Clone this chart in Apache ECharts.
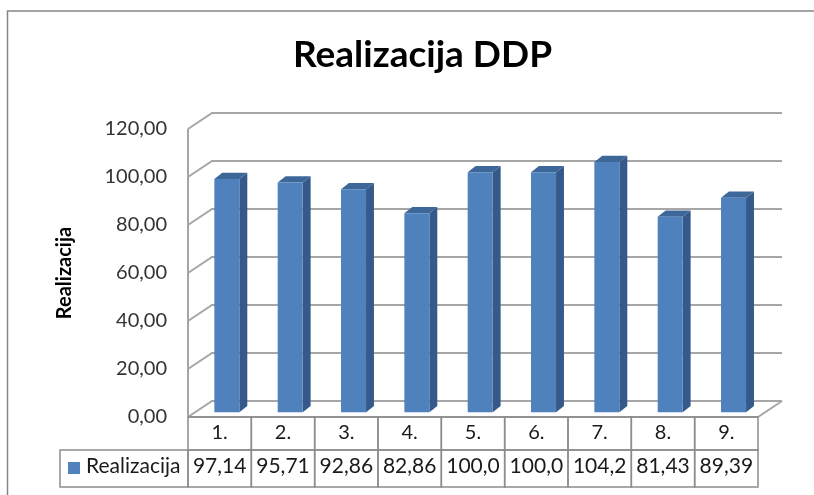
<!DOCTYPE html>
<html>
<head>
<meta charset="utf-8">
<script src="https://cdn.jsdelivr.net/npm/echarts@6/dist/echarts.min.js"></script>
<style>
  html, body { margin: 0; padding: 0; background: #fff; }
  #chart { width: 814px; height: 495px; }
</style>
</head>
<body>
<div id="chart"></div>
<script>
// data
var seriesName = 'Realizacija';
var categories = ['1.', '2.', '3.', '4.', '5.', '6.', '7.', '8.', '9.'];
var values = [97.14, 95.71, 92.86, 82.86, 100.0, 100.0, 104.2, 81.43, 89.39];
var yTicks = [0, 20, 40, 60, 80, 100, 120];

var FONT = 'Lato';
var DX = 24, DY = 16;          // depth of the 3d box (back wall offset)
var BAR_D0 = 0.3, BAR_D1 = 0.63; // bar depth position inside the box
var BLUE = '#4f81bd';

// excel style number: 2 decimals, comma, cut to column width
function fmt(v) {
    return v.toFixed(2).substring(0, 5).replace('.', ',');
}

var chart = echarts.init(document.getElementById('chart'));

// walls + gridlines
function renderWall(params, api) {
    var cs = params.coordSys;
    var left = cs.x, right = cs.x + cs.width;
    var y = api.coord([0, api.value(0)])[1];
    var lineStyle = { stroke: '#a6a6a6', lineWidth: 2, fill: null };
    var children = [{
        type: 'polyline',
        shape: { points: [[left, y], [left + DX, y - DY], [right + DX, y - DY]] },
        style: lineStyle
    }];
    if (api.value(0) === 0) {
        var yTop = api.coord([0, yTicks[yTicks.length - 1]])[1];
        children.push({
            type: 'polyline',
            shape: { points: [[left, y], [right, y], [right + DX, y - DY]] },
            style: lineStyle
        });
        children.push({
            type: 'line',
            shape: { x1: left, y1: y, x2: left, y2: yTop },
            style: { stroke: '#a6a6a6', lineWidth: 2 }
        });
    }
    return { type: 'group', children: children };
}

// 3d bars
function renderBar(params, api) {
    var idx = api.value(0);
    var top = api.coord([idx, api.value(1)]);
    var base = api.coord([idx, 0]);
    var band = api.size([1, 0])[0];
    var w = band * 0.395;
    var ox = DX * BAR_D0, oy = DY * BAR_D0;
    var sdx = DX * (BAR_D1 - BAR_D0), sdy = DY * (BAR_D1 - BAR_D0) + 1;
    var x0 = top[0] - w / 2 + ox;
    var yt = top[1] - oy, yb = base[1] - oy;
    return {
        type: 'group',
        children: [{
            type: 'polygon',
            shape: { points: [[x0 + w, yt], [x0 + w + sdx, yt - sdy], [x0 + w + sdx, yb - sdy], [x0 + w, yb]] },
            style: { fill: '#35598a' }
        }, {
            type: 'polygon',
            shape: { points: [[x0, yt], [x0 + sdx, yt - sdy], [x0 + w + sdx, yt - sdy], [x0 + w, yt]] },
            style: { fill: '#3e6799' }
        }, {
            type: 'rect',
            shape: { x: x0, y: yt, width: w, height: yb - yt },
            style: { fill: BLUE }
        }]
    };
}

// data table under the plot
function renderTable(params, api) {
    var idx = api.value(0);
    var base = api.coord([idx, 0]);
    var band = api.size([1, 0])[0];
    var x = base[0] - band / 2;
    var y1 = base[1], y2 = y1 + 33, y3 = y2 + 37;
    var border = { stroke: '#8c8c8c', lineWidth: 1.5, fill: null };
    return {
        type: 'group',
        children: [{
            type: 'rect', shape: { x: x, y: y1, width: band, height: y2 - y1 }, style: border
        }, {
            type: 'rect', shape: { x: x, y: y2, width: band, height: y3 - y2 }, style: border
        }, {
            type: 'text',
            style: {
                text: categories[idx], x: base[0], y: (y1 + y2) / 2 - 1,
                align: 'center', verticalAlign: 'middle',
                font: '20px ' + FONT, fill: '#1a1a1a'
            }
        }, {
            type: 'text',
            style: {
                text: fmt(api.value(1)), x: base[0], y: (y2 + y3) / 2 - 2,
                align: 'center', verticalAlign: 'middle',
                font: '21px ' + FONT, fill: '#1a1a1a'
            }
        }]
    };
}

var option = {
    backgroundColor: '#fff',
    animation: false,
    textStyle: { fontFamily: FONT },
    title: {
        text: 'Realizacija DDP',
        left: 288,
        top: 32,
        textStyle: { fontFamily: FONT, fontSize: 37, fontWeight: 'bold', color: '#000' }
    },
    grid: { left: 188, right: 56, top: 129, bottom: 78 },
    xAxis: {
        type: 'category',
        data: categories,
        show: false
    },
    yAxis: {
        type: 'value',
        min: 0,
        max: 120,
        interval: 20,
        name: seriesName,
        nameLocation: 'middle',
        nameRotate: 90,
        nameGap: 113,
        nameTextStyle: { fontFamily: FONT, fontSize: 20, fontWeight: 'bold', color: '#000' },
        axisLine: { show: false },
        axisTick: { show: false },
        splitLine: { show: false },
        axisLabel: {
            margin: 21,
            fontSize: 20,
            fontFamily: FONT,
            color: '#333',
            formatter: function (v) { return v.toFixed(2).replace('.', ','); }
        }
    },
    graphic: [{
        type: 'rect',
        shape: { x: 7.5, y: 11, width: 1000, height: 1000 },
        style: { fill: null, stroke: '#868686', lineWidth: 1.5 },
        silent: true
    }, {
        type: 'rect',
        shape: { x: 60, y: 450, width: 128, height: 37 },
        style: { fill: null, stroke: '#8c8c8c', lineWidth: 1.5 }
    }, {
        type: 'rect',
        shape: { x: 68, y: 462, width: 12, height: 12 },
        style: { fill: BLUE }
    }, {
        type: 'text',
        style: {
            text: seriesName, x: 86, y: 466,
            verticalAlign: 'middle', font: '21px ' + FONT, fill: '#1a1a1a'
        }
    }],
    series: [{
        type: 'custom',
        name: 'wall',
        renderItem: renderWall,
        data: yTicks.map(function (v) { return [v]; }),
        clip: false,
        silent: true,
        z: 1
    }, {
        type: 'custom',
        name: seriesName,
        renderItem: renderBar,
        encode: { x: 0, y: 1 },
        data: values.map(function (v, i) { return [i, v]; }),
        clip: false,
        z: 2
    }, {
        type: 'custom',
        name: 'table',
        renderItem: renderTable,
        encode: { x: 0, y: 1 },
        data: values.map(function (v, i) { return [i, v]; }),
        clip: false,
        silent: true,
        z: 3
    }]
};

chart.setOption(option);
</script>
</body>
</html>
